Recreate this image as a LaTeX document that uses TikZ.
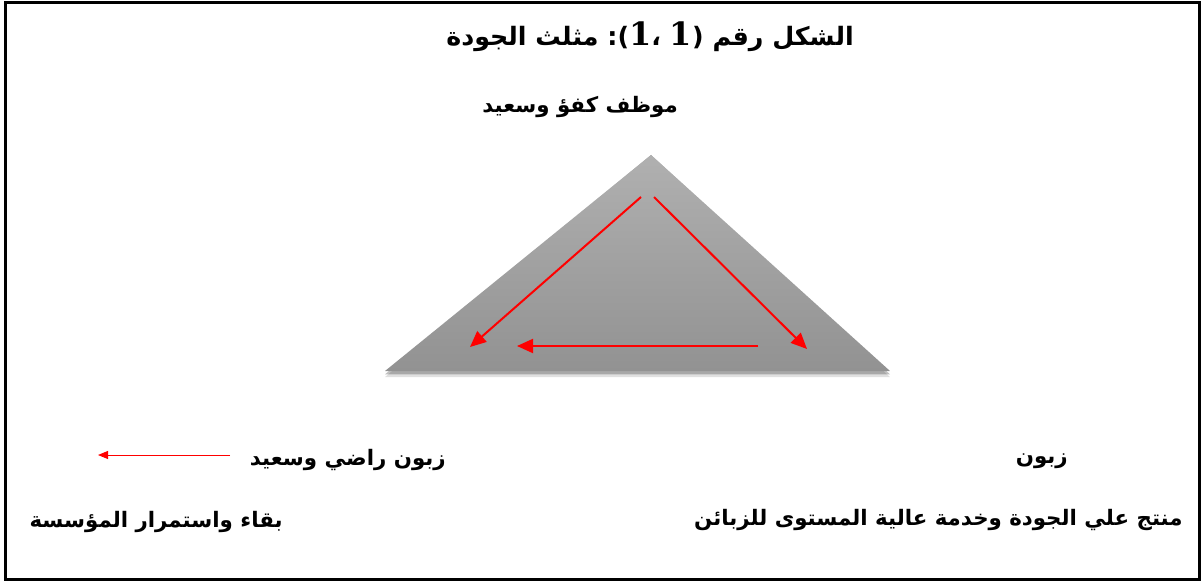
\documentclass[tikz,border=0pt]{standalone}
\usepackage{fontspec}
\usetikzlibrary{arrows.meta}
\TeXXeTstate=1
\newfontfamily\arabicfont[Script=Arabic]{DejaVu Sans}
\newfontfamily\neutralfont{DejaVu Sans}
\newfontfamily\digitfont{DejaVu Serif}
\newcommand{\bigone}{{\digitfont\bfseries\fontsize{24}{28}\selectfont 1}}
\definecolor{tritop}{RGB}{176,176,176}
\definecolor{tribot}{RGB}{146,146,146}
\definecolor{arrred}{RGB}{255,0,0}
\tikzset{
  lbl/.style={inner sep=0pt, font=\arabicfont\bfseries\fontsize{16}{19}\selectfont},
  ttl/.style={inner sep=0pt, font=\arabicfont\bfseries\fontsize{19}{23}\selectfont},
  flow/.style={draw=arrred, line width=1.5pt, -{Triangle[length=12pt,width=10.5pt]}},
  thin/.style={draw=arrred, line width=0.75pt, -{Triangle[length=7.5pt,width=6pt]}},
}
\begin{document}
\begin{tikzpicture}[x=0.75pt,y=-0.75pt]
\useasboundingbox (0,0) rectangle (1202,581);
\draw[line width=2.25pt] (5,3) rectangle (1199,579);
% title and labels (title written in visual left-to-right order)
\node[ttl] (title) at (650,37) {\beginR مثلث الجودة\endR{} {\neutralfont\bfseries :(}\bigone{\neutralfont\bfseries ،} \bigone{\neutralfont\bfseries )} \beginR الشكل رقم\endR};
\node[lbl, anchor=east] (top) at (678,107) {\beginR موظف كفؤ وسعيد\endR};
% triangle
\coordinate (apex) at (651,155);
\coordinate (bl) at (385,371);
\coordinate (br) at (890,371);
\fill[black, opacity=0.12] ([yshift=-4.5pt]bl) -- ([yshift=-4.5pt]br) -- (apex) -- cycle;
\fill[black, opacity=0.25] ([yshift=-2.5pt]bl) -- ([yshift=-2.5pt]br) -- (apex) -- cycle;
\shade[top color=tritop, bottom color=tribot] (apex) -- (br) -- (bl) -- cycle;
% arrows in triangle
\coordinate (a1s) at (641,197);
\coordinate (a1e) at (470,347);
\coordinate (a2s) at (654,197);
\coordinate (a2e) at (807,349);
\coordinate (a3s) at (758,346);
\coordinate (a3e) at (517,346);
\draw[flow] (a1s) -- (a1e);
\draw[flow] (a2s) -- (a2e);
\draw[flow] (a3s) -- (a3e);
% bottom labels
\node[lbl, anchor=east] (r1) at (1068,461) {\beginR زبون\endR};
\node[lbl, anchor=east] (r2) at (1183,520) {\beginR منتج علي الجودة وخدمة عالية المستوى للزبائن\endR};
\node[lbl, anchor=east] (l1) at (446,460) {\beginR زبون راضي وسعيد\endR};
\node[lbl, anchor=east] (l2) at (283,522) {\beginR بقاء واستمرار المؤسسة\endR};
\coordinate (ls) at (230,455);
\coordinate (le) at (98,455);
\draw[thin] (ls) -- (le);
\end{tikzpicture}
\end{document}
